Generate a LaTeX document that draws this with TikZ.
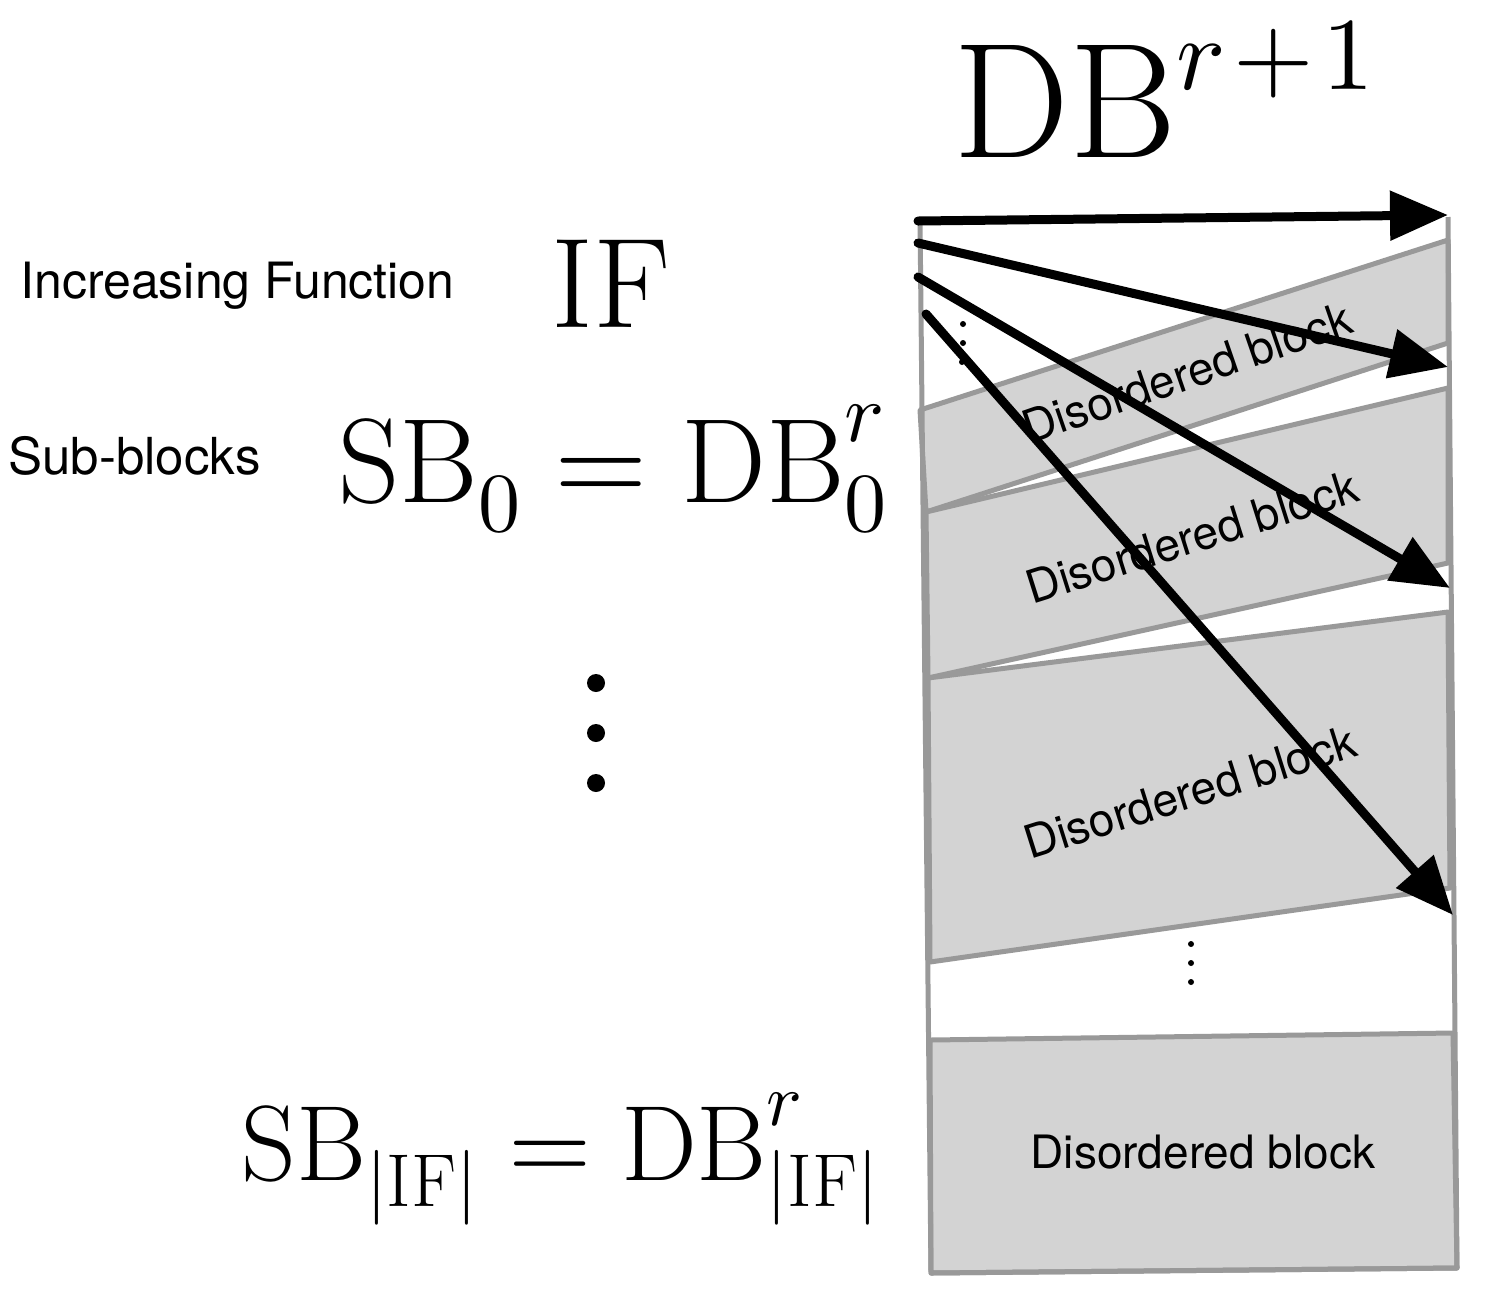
\documentclass[tikz,border=0pt]{standalone}
\usepackage{graphicx}
\usepackage{fontspec}
\usepackage{unicode-math}
\setmathfont{Latin Modern Math}
\newfontfamily\helv{TeX Gyre Heros}
\usetikzlibrary{arrows.meta}
\definecolor{bandfill}{RGB}{211,211,211}
\definecolor{bandline}{RGB}{153,153,153}
\begin{document}
\begin{tikzpicture}[x=0.5pt,y=-0.5pt,
  band/.style={fill=bandfill, draw=bandline, line width=2.5pt, line join=round},
  frame/.style={draw=bandline, line width=2.5pt, line join=round},
  bigarrow/.style={draw=black, line width=4.5pt, line cap=round, -{Triangle[length=29pt,width=24pt]}},
  lbl/.style={font=\helv\fontsize{23}{26}\selectfont, inner sep=0pt},
  side/.style={inner sep=0pt, anchor=base west},
  mathlbl/.style={inner sep=0pt, anchor=base west},
  ]
\useasboundingbox (0,0) rectangle (1504,1313);

% bands
\draw[band] (920,410) -- (1448,240) -- (1448,343) -- (926,512) -- cycle;
\draw[band] (926,512) -- (1448,388) -- (1448,563) -- (928,678) -- cycle;
\draw[band] (928,678) -- (1448,612) -- (1450,888) -- (930,962) -- cycle;
\draw[band] (930,1040) -- (1453,1033) -- (1457,1268) -- (931,1273) -- cycle;
% frame
\draw[frame] (920,218) -- (931,1273) -- (1457,1268) -- (1448,217);

% band labels
\node[lbl, rotate=19] (l1) at (1187,373) {Disordered block};
\node[lbl, rotate=17.5] (l2) at (1192,537) {Disordered block};
\node[lbl, rotate=17.5] (l3) at (1190,792) {Disordered block};
\node[lbl] (l4) at (1203,1152) {Disordered block};

% small dots
\fill (963,324) circle (3);
\fill (963,343) circle (3);
\fill (962,362) circle (3);
\fill (1191,944) circle (3);
\fill (1191,963) circle (3);
\fill (1191,982) circle (3);
% big dots
\fill (596,683) circle (9);
\fill (596,733) circle (9);
\fill (596,783) circle (9);

% arrows
\coordinate (s1) at (918,221);
\coordinate (e1) at (1448,215);
\coordinate (s2) at (918,243);
\coordinate (e2) at (1448,367);
\coordinate (s3) at (918,277);
\coordinate (e3) at (1450,588);
\coordinate (s4) at (926,314);
\coordinate (e4) at (1453,915);
\draw[bigarrow] (s1) -- (e1);
\draw[bigarrow] (s2) -- (e2);
\draw[bigarrow] (s3) -- (e3);
\draw[bigarrow] (s4) -- (e4);

% texts
\node[side, font=\helv\fontsize{25}{28}\selectfont] (incf) at (20,298) {Increasing Function};
\node[side, font=\helv\fontsize{25.5}{28}\selectfont] (subb) at (8,474) {Sub-blocks};
\node[mathlbl, font=\fontsize{64}{68}\selectfont] (if) at (551,327) {$\mathrm{IF}$};
\node[mathlbl, font=\fontsize{60}{64}\selectfont] (sb0) at (338,502) {$\mathrm{SB}_0=\mathrm{DB}_0^r$};
\node[mathlbl, font=\fontsize{53.5}{58}\selectfont] (sbif) at (241,1180) {$\mathrm{SB}_{|\mathrm{IF}|}=\mathrm{DB}_{|\mathrm{IF}|}^r$};
\node[mathlbl, font=\fontsize{82}{86}\selectfont] (dbr) at (953,157) {$\mathrm{DB}^{\raisebox{-8pt}{\scalebox{0.9}{$\scriptstyle r\mkern1.5mu+\mkern1.5mu1$}}}$};
\end{tikzpicture}
\end{document}
